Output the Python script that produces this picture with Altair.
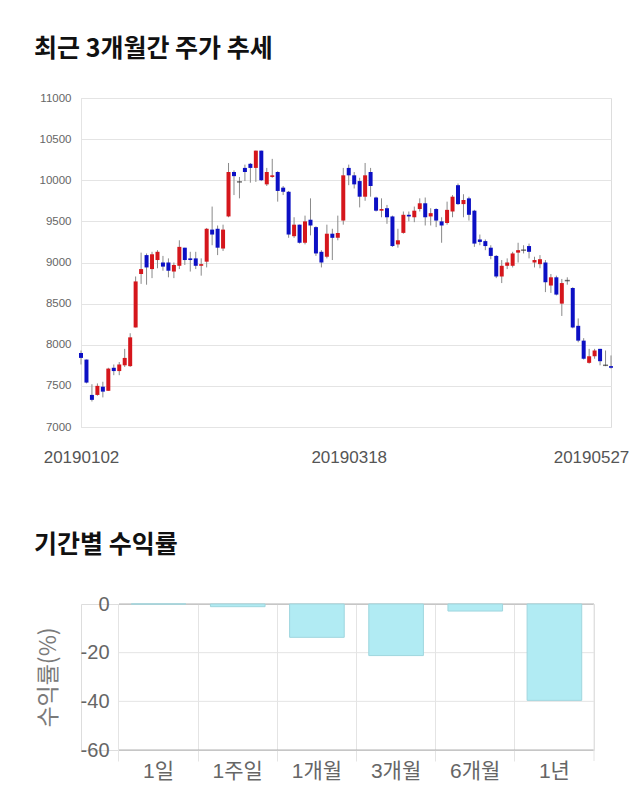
import altair as alt
import pandas as pd

dates = [
    "20190102", "20190103", "20190104", "20190107", "20190108", "20190109", "20190110", "20190111",
    "20190114", "20190115", "20190116", "20190117", "20190118", "20190121", "20190122", "20190123",
    "20190124", "20190125", "20190128", "20190129", "20190130", "20190131",
    "20190201", "20190207", "20190208", "20190211", "20190212", "20190213", "20190214", "20190215",
    "20190218", "20190219", "20190220", "20190221", "20190222", "20190225", "20190226", "20190227", "20190228",
    "20190304", "20190305", "20190306", "20190307", "20190308", "20190311", "20190312", "20190313",
    "20190314", "20190315", "20190318", "20190319", "20190320", "20190321", "20190322", "20190325",
    "20190326", "20190327", "20190328", "20190329",
    "20190401", "20190402", "20190403", "20190404", "20190405", "20190408", "20190409", "20190410",
    "20190411", "20190412", "20190415", "20190416", "20190417", "20190418", "20190419", "20190422",
    "20190423", "20190424", "20190425", "20190426", "20190429", "20190430",
    "20190502", "20190503", "20190507", "20190508", "20190509", "20190510", "20190513", "20190514",
    "20190515", "20190516", "20190517", "20190520", "20190521", "20190522", "20190523", "20190524", "20190527",
]

opens = [
    7900, 7820, 7390, 7390, 7490, 7440, 7720, 7680, 7750, 7740,
    8210, 8860, 9090, 8920, 9030, 9000, 9000, 8890, 8960, 9180,
    9050, 9050, 8960, 9010, 9400, 9410, 9170, 9560, 10100, 9980,
    10150, 10200, 10150, 10360, 9950, 10040, 10100, 9910, 9860, 9320,
    9460, 9240, 9520, 9430, 9130, 9070, 9350, 9300, 9510, 10150,
    10060, 9990, 9800, 10100, 9790, 9630, 9660, 9560, 9220, 9360,
    9580, 9550, 9650, 9720, 9560, 9650, 9500, 9480, 9620, 9940,
    9710, 9780, 9630, 9280, 9260, 9180, 9080, 8830, 8960, 8960,
    9120, 9150, 9200, 9000, 8980, 9000, 8720, 8820, 8500, 8780,
    8690, 8230, 8050, 7780, 7860, 7950, 7750, 7740,
]
highs = [
    7930, 7820, 7520, 7530, 7550, 7720, 7760, 7790, 7950, 8140,
    8830, 9120, 9110, 9130, 9150, 9080, 9050, 9000, 9270, 9180,
    9130, 9130, 9050, 9420, 9680, 9450, 9460, 10210, 10120, 10040,
    10190, 10210, 10360, 10360, 10150, 10260, 10110, 9930, 9870, 9550,
    9460, 9570, 9780, 9440, 9150, 9460, 9410, 9570, 10150, 10190,
    10100, 10030, 10210, 10150, 9800, 9780, 9700, 9570, 9410, 9620,
    9620, 9680, 9780, 9790, 9660, 9660, 9550, 9740, 9820, 9960,
    9830, 9800, 9640, 9340, 9280, 9210, 9090, 9030, 9050, 9130,
    9240, 9210, 9230, 9070, 9090, 9030, 8860, 8840, 8800, 8820,
    8700, 8320, 8080, 7950, 7950, 7950, 7930, 7870,
]
lows = [
    7760, 7530, 7310, 7380, 7360, 7440, 7630, 7630, 7730, 7730,
    8210, 8740, 8730, 8810, 8930, 8900, 8820, 8810, 8920, 8970,
    8890, 8920, 8840, 8940, 9210, 9090, 9140, 9550, 9820, 9780,
    9990, 9970, 9980, 9990, 9930, 10030, 9740, 9820, 9300, 9300,
    9230, 9220, 9330, 9080, 8940, 9050, 9030, 9270, 9460, 9940,
    9900, 9670, 9750, 9800, 9620, 9550, 9470, 9190, 9180, 9350,
    9500, 9490, 9620, 9450, 9450, 9430, 9240, 9460, 9550, 9700,
    9550, 9510, 9190, 9210, 9150, 9040, 8810, 8750, 8920, 8940,
    9000, 9110, 9050, 8940, 8930, 8640, 8630, 8600, 8350, 8730,
    8200, 8030, 7820, 7770, 7830, 7750, 7740, 7710,
]
closes = [
    7840, 7540, 7330, 7500, 7430, 7710, 7680, 7760, 7840, 8090,
    8770, 8920, 8940, 9100, 9130, 8950, 8900, 8970, 9190, 9030,
    9030, 8960, 8980, 9410, 9340, 9180, 9400, 10100, 10050, 9980,
    10100, 10150, 10360, 10000, 10100, 10060, 9870, 9860, 9340, 9460,
    9240, 9500, 9450, 9110, 9000, 9350, 9300, 9360, 10060, 10060,
    9950, 9800, 10060, 9930, 9630, 9650, 9550, 9200, 9270, 9580,
    9560, 9630, 9720, 9550, 9600, 9510, 9450, 9640, 9800, 9710,
    9760, 9580, 9230, 9250, 9200, 9080, 8830, 8960, 9000, 9110,
    9150, 9150, 9130, 9030, 9040, 8760, 8820, 8610, 8750, 8780,
    8210, 8050, 7830, 7860, 7930, 7800, 7750, 7720,
]

periods = ["1일", "1주일", "1개월", "3개월", "6개월", "1년"]
returns = [0.0, -1.1, -13.7, -21.2, -2.9, -39.6]
return_ticks = [0, -20, -40, -60]

price_ticks = [7000, 7500, 8000, 8500, 9000, 9500, 10000, 10500, 11000]
date_ticks = [dates[0], dates[len(dates) // 2], dates[-1]]

RED = "#d5161c"
BLUE = "#0c10c4"
FLAT = "#333333"
GRID = "#e4e4e4"
KFONT = "Noto Sans CJK KR"

# ---------------- candlestick panel ----------------
df = pd.DataFrame({"date": dates, "open": opens, "high": highs, "low": lows, "close": closes})
df["dir"] = ["up" if c > o else ("down" if c < o else "flat") for o, c in zip(opens, closes)]

xenc = alt.X(
    "date:O",
    scale=alt.Scale(type="point", padding=0),
    axis=alt.Axis(
        values=date_ticks, title=None, labelAngle=0, ticks=False, domain=False, grid=False,
        labelFont="Liberation Sans", labelFontSize=17, labelColor="#555555", labelPadding=22,
        labelOffset={"condition": {"test": f"datum.value == '{dates[-1]}'", "value": -20}, "value": 0},
    ),
)
yscale = alt.Scale(domain=[7000, 11000], nice=False, zero=False)
yaxis = alt.Axis(
    values=price_ticks, format="d", title=None, ticks=False, domain=True, domainColor=GRID,
    gridColor=GRID, labelFont="Liberation Sans", labelFontSize=11.5, labelColor="#666666",
    labelPadding=10,
)
color = alt.Color("dir:N", scale=alt.Scale(domain=["up", "down", "flat"], range=[RED, BLUE, FLAT]), legend=None)

base = alt.Chart(df)
wicks = base.mark_rule(color="#8a8a8a", strokeWidth=1).encode(
    x=xenc, y=alt.Y("low:Q", scale=yscale, axis=yaxis), y2="high:Q"
)
bodies = base.transform_filter("datum.dir != 'flat'").mark_bar(size=4).encode(
    x=xenc, y=alt.Y("open:Q", scale=yscale, axis=yaxis), y2="close:Q", color=color
)
dojis = base.transform_filter("datum.dir == 'flat'").mark_tick(thickness=1.5, size=5, orient="horizontal").encode(
    x=xenc, y=alt.Y("open:Q", scale=yscale, axis=yaxis), color=color
)
candle = alt.layer(wicks, bodies, dojis).properties(
    width=530, height=329,
    title=alt.TitleParams(
        "최근 3개월간 주가 추세", anchor="start", frame="group", font=KFONT, fontSize=25,
        fontWeight="bold", color="#111111", offset=30, dx=-47,
    ),
)

# ---------------- returns panel ----------------
PAD_IN = 0.31
bdf = pd.DataFrame({"period": periods, "ret": returns})
gdf = pd.DataFrame({"ret": return_ticks})

bx = alt.X(
    "period:N", sort=periods,
    scale=alt.Scale(paddingInner=PAD_IN, paddingOuter=PAD_IN / 2, range=[38, 513]),
    axis=alt.Axis(
        title=None, labelAngle=0, bandPosition=-(PAD_IN / 2) / (1 - PAD_IN), grid=True, gridColor=GRID,
        ticks=True, tickColor=GRID, tickSize=11, domain=False,
        labelFont=f"Liberation Sans, {KFONT}", labelFontSize=21, labelColor="#666666",
        labelPadding=-1,
    ),
)
byaxis = alt.Axis(
    values=return_ticks, labelExpr="'' + datum.value", title="수익률(%)", titleFont=KFONT,
    titleFontSize=23, titleFontWeight="normal", titleColor="#7a7a7a", titlePadding=20,
    ticks=False, domain=False, grid=False, offset=-38,
    labelFont="Liberation Sans", labelFontSize=20, labelColor="#666666", labelPadding=10,
)
bscale = alt.Scale(domain=[-60, 0], nice=False)

hgrid = alt.Chart(gdf).mark_rule().encode(
    y=alt.Y("ret:Q", scale=bscale, axis=byaxis),
    x=alt.value(38), x2=alt.value(513),
    color=alt.condition(
        f"datum.ret === {return_ticks[0]} || datum.ret === {return_ticks[-1]}",
        alt.value("#b0b0b0"), alt.value(GRID),
    ),
)
bars = alt.Chart(bdf).mark_bar(color="#b1ebf3", stroke="#9fd6de", strokeWidth=1).encode(
    x=bx, y=alt.Y("ret:Q", scale=bscale, axis=byaxis)
)
frame = alt.Chart(gdf).transform_filter("datum.ret === 0").mark_rule(color=GRID).encode(
    x=alt.value(513), y=alt.value(0), y2=alt.value(157)
)
barchart = alt.layer(hgrid, bars, frame).properties(
    width=513, height=146,
    title=alt.TitleParams(
        "기간별 수익률", anchor="start", frame="group", font=KFONT, fontSize=25,
        fontWeight="bold", color="#111111", offset=36, dx=-47,
    ),
)

chart = alt.vconcat(candle, barchart, spacing=66).properties(
    padding={"left": 33, "top": 36, "right": 0, "bottom": 0}
).configure_view(stroke=None).configure(background="white")

chart.save("out.html", embed_options={"renderer": "svg", "actions": False})
